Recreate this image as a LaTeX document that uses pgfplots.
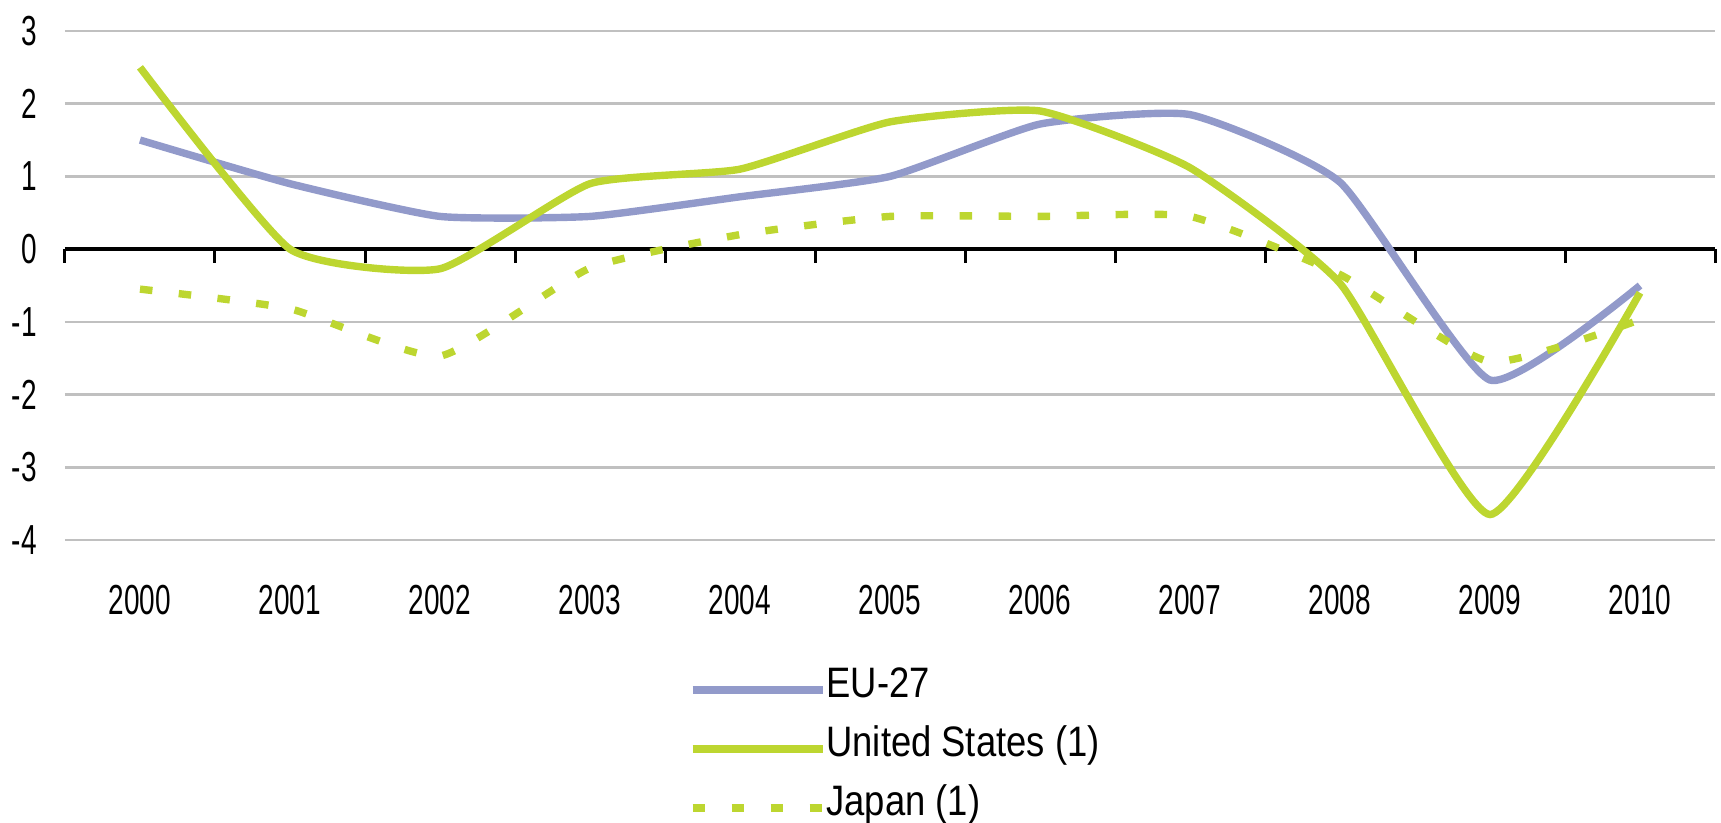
\documentclass[border=0pt]{standalone}
\usepackage{pgfplots}
\pgfplotsset{compat=1.18}
\usepackage{fontspec}
\setmainfont{Liberation Sans}
\usepackage{graphicx}
\definecolor{eucol}{RGB}{146,154,202}
\definecolor{uscol}{RGB}{189,214,48}
\definecolor{gridcol}{RGB}{192,192,192}
\newcommand\tl[1]{\scalebox{1}[1.5]{#1}}
\newcommand\lgl[1]{\scalebox{1}[1.17]{#1}}
\begin{document}
\begin{tikzpicture}
\path[use as bounding box] (-32.5pt,-141.5pt) rectangle (828pt,270pt);
\begin{axis}[
  at={(0,0)}, anchor=south west,
  scale only axis, width=825pt, height=254.5pt,
  xmin=-0.5, xmax=10.5, ymin=-4, ymax=3,
  axis line style={draw=none},
  tick style={draw=none},
  xtick={0,1,2,3,4,5,6,7,8,9,10},
  xticklabels={\tl{2000},\tl{2001},\tl{2002},\tl{2003},\tl{2004},\tl{2005},\tl{2006},\tl{2007},\tl{2008},\tl{2009},\tl{2010}},
  ytick={-4,-3,-2,-1,0,1,2,3},
  yticklabels={\tl{-4},\tl{-3},\tl{-2},\tl{-1},\tl{0},\tl{1},\tl{2},\tl{3}},
  ymajorgrids, grid style={gridcol, line width=1.3pt},
  xticklabel style={font=\fontsize{14}{16}\selectfont, anchor=center, inner sep=0pt, yshift=-30pt},
  yticklabel style={font=\fontsize{14}{16}\selectfont, anchor=east, inner sep=0pt, xshift=-14pt},
  clip=false,
  legend style={at={(axis description cs:0.3782,-0.2456)}, anchor=north west,
    draw=none, fill=none, inner sep=0pt, outer sep=0pt, row sep=4.5pt,
    font=\fontsize{18.2}{20}\selectfont,
    nodes={inner sep=0pt, text height=16pt, text depth=9pt},
    cells={anchor=west},
    /tikz/every odd column/.style={column sep=0pt}},
  legend image code/.code={\draw[#1] (0pt,0pt) -- (65pt,0pt);},
]
\addplot[black, line width=2pt, forget plot] coordinates {(-0.5,0) (10.5,0)};
\pgfplotsinvokeforeach{-0.5,0.5,1.5,2.5,3.5,4.5,5.5,6.5,7.5,8.5,9.5,10.5}{
  \draw[black, line width=1.5pt] (axis cs:#1,0) -- ++(0pt,-7pt);
}
\addplot[eucol, line width=3.7pt, smooth, tension=0.3] coordinates {
  (0,1.5) (1,0.9) (2,0.45) (3,0.45) (4,0.72) (5,1.0) (6,1.72) (7,1.85) (8,0.92) (9,-1.8) (10,-0.5)};
\addlegendentry{\lgl{EU-27}}
\addplot[uscol, line width=3.7pt, smooth, tension=0.3] coordinates {
  (0,2.5) (1,0.0) (2,-0.27) (3,0.9) (4,1.1) (5,1.75) (6,1.9) (7,1.12) (8,-0.47) (9,-3.65) (10,-0.6)};
\addlegendentry{\lgl{United States (1)}}
\addplot[uscol, line width=3.7pt, smooth, tension=0.3, dash pattern=on 6.25pt off 13.25pt] coordinates {
  (0,-0.55) (1,-0.82) (2,-1.47) (3,-0.26) (4,0.2) (5,0.45) (6,0.45) (7,0.45) (8,-0.35) (9,-1.55) (10,-0.97)};
\addlegendentry{\lgl{Japan (1)}}
\end{axis}
\end{tikzpicture}
\end{document}
